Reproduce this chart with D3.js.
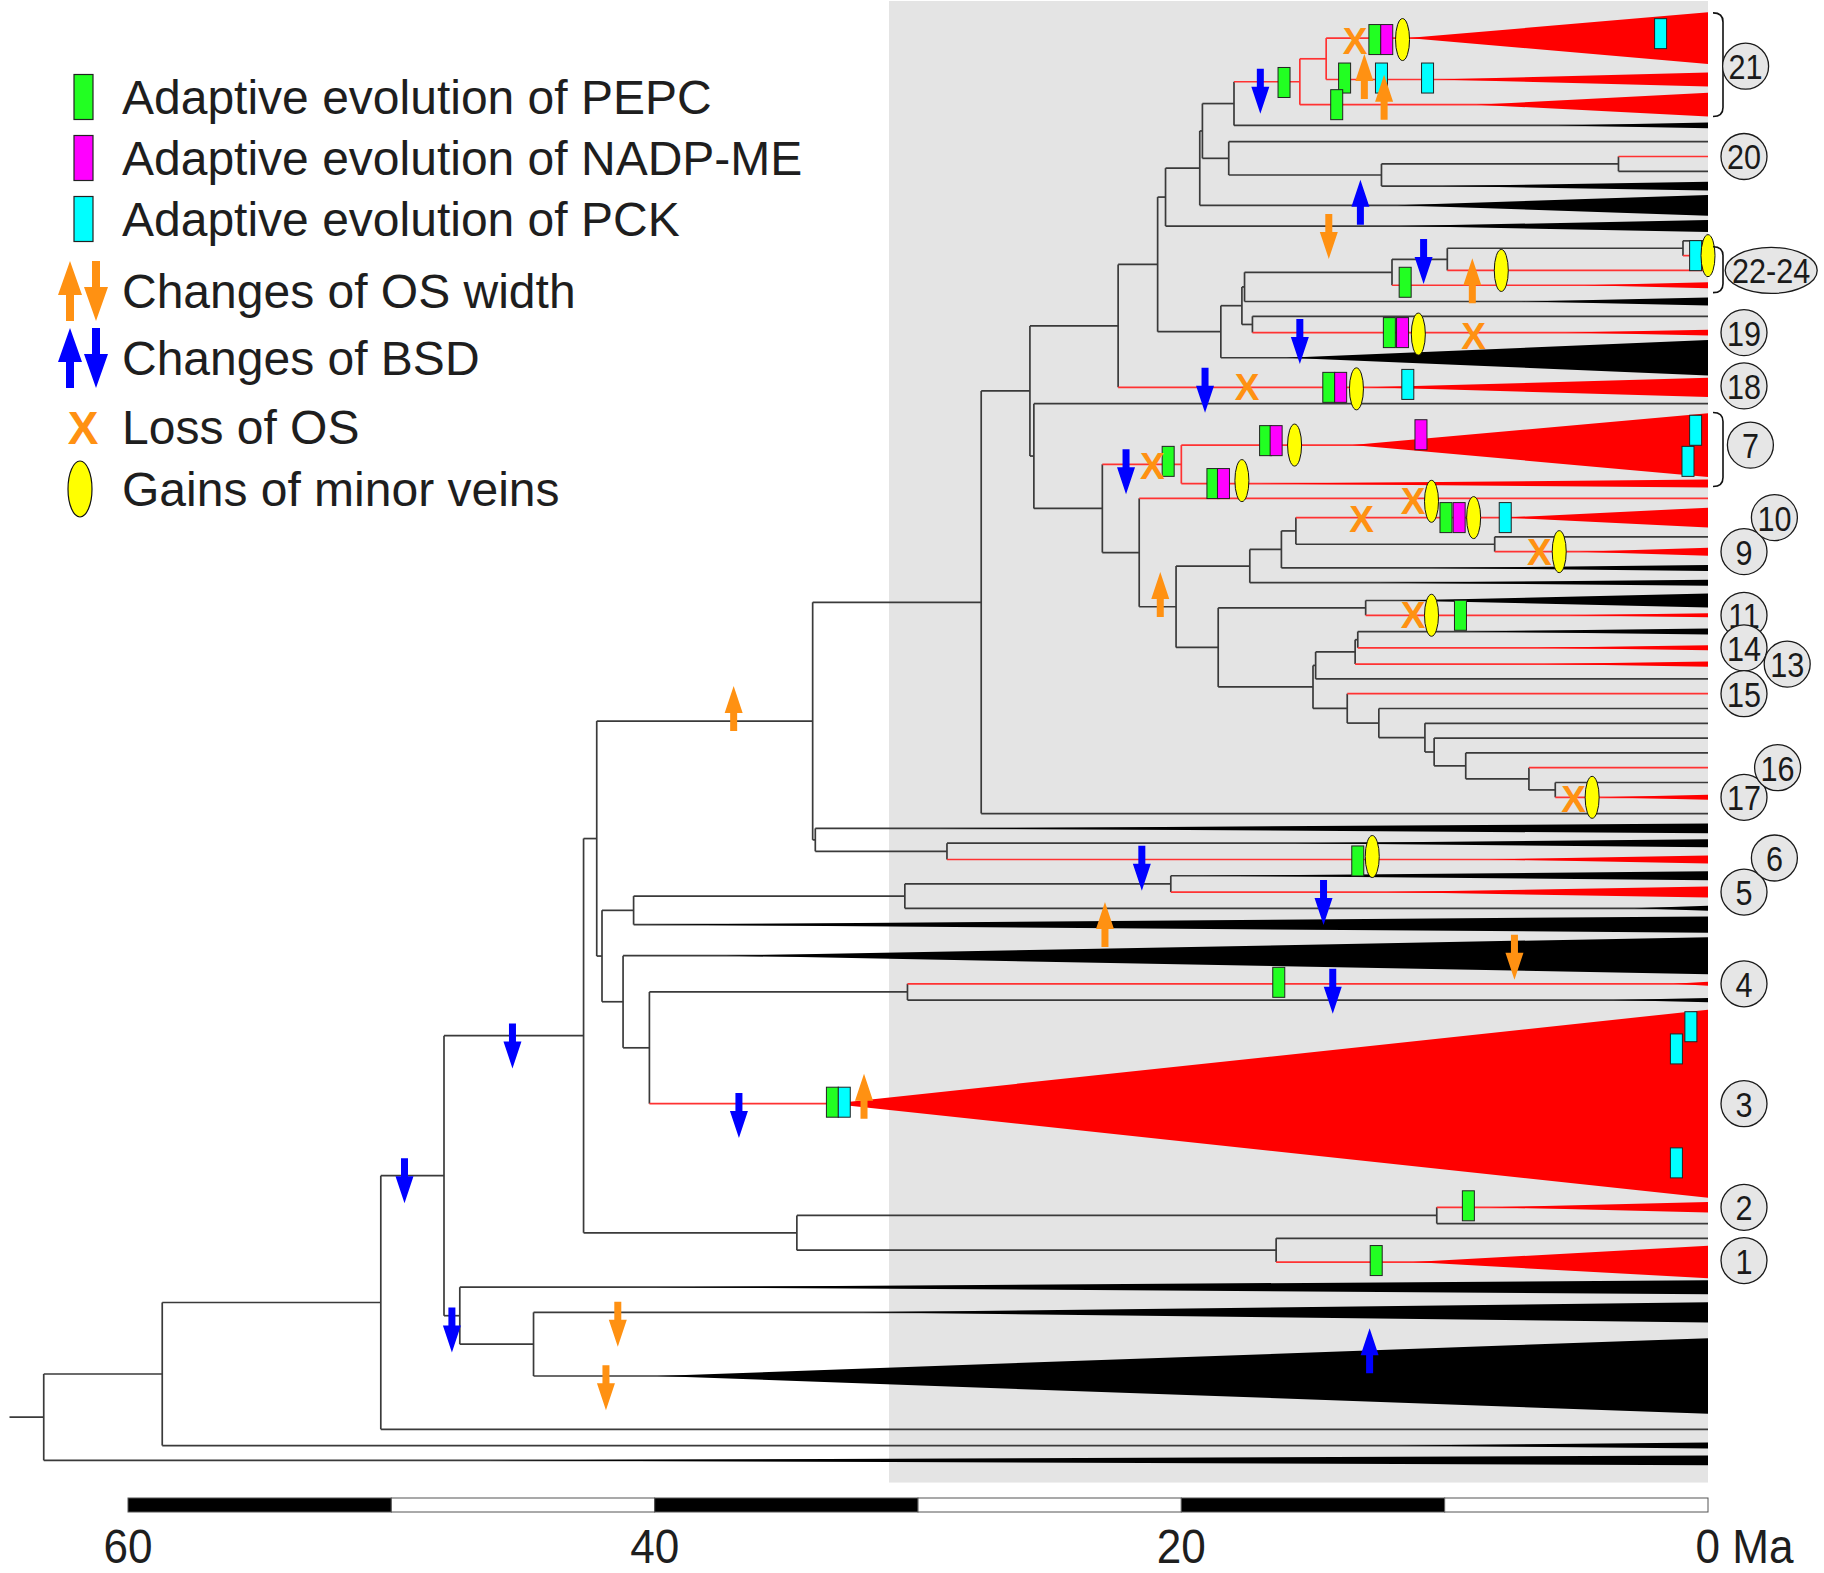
<!DOCTYPE html>
<html>
<head>
<meta charset="utf-8">
<script src="https://cdn.jsdelivr.net/npm/d3@7"></script>
<style>
  body { margin: 0; background: #fff; }
  svg { display: block; font-family: "Liberation Sans", Arial, sans-serif; }
</style>
</head>
<body>
<svg id="chart" width="1824" height="1573"></svg>
<script>
// ---------------- Tree: internal nodes [id, parent, age (Ma)] ----------------
const internalNodes = [
  ["root", null, 63.2], ["n1", "root", 58.7], ["n2", "n1", 50.4], ["n3", "n2", 48.0],
  ["n4", "n3", 42.7], ["n5", "n4", 42.2], ["n6", "n5", 34.0], ["n7", "n6", 27.6],
  ["n8", "n7", 25.75], ["n9", "n8", 22.4], ["n10", "n9", 20.9], ["n11", "n10", 20.6],
  ["n12", "n11", 19.3], ["n13", "n12", 19.2], ["n14", "n13", 18.0], ["n15", "n14", 15.5],
  ["n16", "n15", 14.5], ["n17", "n13", 18.2], ["n18", "n17", 12.4], ["n19", "n18", 3.4],
  ["n20", "n10", 18.5], ["n21", "n20", 17.7], ["n22", "n21", 17.6], ["n23", "n22", 12.0],
  ["n24", "n23", 9.9], ["n25", "n24", 0.95], ["n26", "n21", 17.3], ["n27", "n8", 25.6],
  ["n28", "n27", 23.0], ["n29", "n28", 20.0], ["n30", "n28", 21.6], ["n31", "n30", 20.2],
  ["n32", "n31", 17.4], ["n33", "n32", 16.2], ["n34", "n33", 15.65], ["n35", "n34", 8.1],
  ["n36", "n31", 18.6], ["n37", "n36", 13.0], ["n38", "n36", 15.0], ["n39", "n38", 14.9],
  ["n40", "n39", 13.4], ["n41", "n40", 13.3], ["n42", "n38", 13.7], ["n43", "n42", 12.5],
  ["n44", "n43", 10.75], ["n45", "n44", 10.4], ["n46", "n45", 9.2], ["n47", "n46", 6.8],
  ["n48", "n47", 5.8], ["n49", "n6", 33.9], ["n50", "n49", 28.9], ["n51", "n5", 42.0],
  ["n52", "n51", 40.8], ["n53", "n52", 30.5], ["n54", "n53", 20.4], ["n55", "n51", 41.2],
  ["n56", "n55", 40.2], ["n57", "n56", 30.4], ["n58", "n4", 34.6], ["n59", "n58", 10.3],
  ["n60", "n58", 16.4], ["n61", "n3", 47.4], ["n62", "n61", 44.6]
];

// ---------------- Tips [id, parent, row, state, clade stem age, clade half-height (rows)] ----------------
// state "C4" = red lineages, "C3" = black lineages
const tips = [
  ["t1", "n16", 2.1, "C4", 11.4, 1.75], ["t2", "n16", 4.9, "C4", 10.4, 0.47],
  ["t3", "n15", 6.6, "C4", 8.8, 0.8], ["t4", "n14", 8.0, "C3", 5.7, 0.2],
  ["t5", "n17", 9.1, "C3", null, 0], ["t6", "n19", 10.1, "C4", null, 0],
  ["t7", "n19", 11.1, "C3", null, 0], ["t8", "n18", 12.1, "C3", 10.1, 0.3],
  ["t9", "n12", 13.4, "C3", 11.8, 0.7], ["t10", "n11", 14.8, "C3", 11.7, 0.4],
  ["t11", "n25", 15.8, "C3", null, 0], ["t12", "n25", 16.8, "C4", null, 0],
  ["t13", "n24", 17.8, "C4", null, 0], ["t14", "n23", 18.8, "C4", 4.7, 0.2],
  ["t15", "n22", 19.9, "C3", 7.1, 0.27], ["t16", "n26", 20.9, "C3", null, 0],
  ["t17", "n26", 22.0, "C4", 5.4, 0.2], ["t18", "n20", 23.7, "C3", 16.0, 1.2],
  ["t19", "n9", 25.7, "C4", 12.9, 0.65], ["t20", "n27", 26.8, "C3", null, 0],
  ["t21", "n29", 29.6, "C4", 13.5, 2.15], ["t22", "n29", 32.2, "C4", 17.0, 0.27],
  ["t23", "n30", 33.2, "C4", null, 0], ["t24", "n34", 34.5, "C4", 7.7, 0.67],
  ["t25", "n35", 35.8, "C3", null, 0], ["t26", "n35", 36.8, "C4", 4.9, 0.27],
  ["t27", "n33", 37.9, "C3", 10.5, 0.2], ["t28", "n32", 38.9, "C3", 12.5, 0.2],
  ["t29", "n37", 40.1, "C3", 11.7, 0.47], ["t30", "n37", 41.1, "C4", 5.3, 0.14],
  ["t31", "n41", 42.2, "C3", 9.3, 0.2], ["t32", "n41", 43.3, "C4", 6.5, 0.17],
  ["t33", "n40", 44.4, "C4", 6.2, 0.17], ["t34", "n39", 45.4, "C3", null, 0],
  ["t35", "n42", 46.4, "C4", null, 0], ["t36", "n43", 47.4, "C3", null, 0],
  ["t37", "n44", 48.4, "C3", null, 0], ["t38", "n45", 49.4, "C3", null, 0],
  ["t39", "n46", 50.4, "C3", null, 0], ["t40", "n47", 51.4, "C4", null, 0],
  ["t41", "n48", 52.4, "C3", null, 0], ["t42", "n48", 53.4, "C4", 4.1, 0.17],
  ["t43", "n7", 54.5, "C3", null, 0], ["t44", "n49", 55.5, "C3", 29.2, 0.33],
  ["t45", "n50", 56.5, "C3", 15.7, 0.27], ["t46", "n50", 57.6, "C4", 8.3, 0.27],
  ["t47", "n54", 58.7, "C3", 19.2, 0.3], ["t48", "n54", 59.8, "C4", 12.2, 0.37],
  ["t49", "n53", 60.9, "C3", 2.8, 0.17], ["t50", "n52", 62.0, "C3", 40.3, 0.55],
  ["t51", "n55", 64.1, "C3", 37.3, 1.25], ["t52", "n57", 66.0, "C4", 1.3, 0.14],
  ["t53", "n57", 67.1, "C3", 3.6, 0.14], ["t54", "n56", 74.1, "C4", 33.3, 6.35],
  ["t55", "n59", 81.1, "C4", 8.3, 0.35], ["t56", "n59", 82.2, "C3", null, 0],
  ["t57", "n60", 83.2, "C3", null, 0], ["t58", "n60", 84.8, "C4", 11.2, 1.1],
  ["t59", "n61", 86.5, "C3", 40.0, 0.47], ["t60", "n62", 88.2, "C3", 32.1, 0.68],
  ["t61", "n62", 92.5, "C3", 39.9, 2.55], ["t62", "n2", 96.1, "C3", null, 0],
  ["t63", "n1", 97.2, "C3", 11.8, 0.2], ["t64", "root", 98.2, "C3", 46.3, 0.33]
];
const rootStubAge = 64.5;

// ---------------- Character changes mapped on branches [age (Ma), row] ----------------
const pepcEvents = [[12.65, 2.2], [16.1, 5.1], [13.8, 4.8], [14.1, 6.6], [11.5, 18.6], [12.1, 22.0],
  [14.4, 25.7], [20.5, 30.7], [16.8, 29.3], [18.8, 32.2], [9.95, 34.5], [9.4, 41.1], [13.3, 57.7],
  [16.3, 65.9], [33.25, 74.0], [9.1, 81.0], [12.6, 84.7]];
const nadpmeEvents = [[12.2, 2.2], [11.6, 22.0], [13.95, 25.7], [16.4, 29.3], [18.4, 32.2],
  [10.9, 28.9], [9.45, 34.5]];
const pckEvents = [[1.8, 1.8], [12.4, 4.8], [10.65, 4.8], [0.47, 16.8], [11.4, 25.5], [0.47, 28.6],
  [0.76, 30.7], [7.7, 34.5], [32.8, 74.0], [0.65, 68.9], [1.2, 70.4], [1.2, 78.1]];
const osWidthUp = [[13.05, 4.7], [12.3, 6.1], [8.95, 18.5], [20.8, 39.7], [22.9, 62.0], [32.05, 73.6], [37.0, 47.4]];
const osWidthDown = [[14.4, 15.5], [7.35, 64.2], [41.4, 89.0], [41.85, 93.3]];
const bsdUp = [[13.2, 13.2], [12.85, 90.8]];
const bsdDown = [[17.0, 5.7], [10.8, 17.2], [15.5, 22.6], [19.1, 25.9], [22.1, 31.4], [21.5, 58.2],
  [14.6, 60.5], [14.25, 66.5], [36.8, 74.9], [45.4, 70.2], [49.5, 79.3], [47.7, 89.4]];
const osLoss = [[13.4, 2.3], [8.9, 22.2], [17.5, 25.7], [21.1, 31.0], [11.2, 33.4], [13.15, 34.6],
  [6.4, 36.8], [11.2, 41.1], [5.1, 53.5]];
const minorVeinGains = [[11.6, 2.2], [7.85, 17.8], [0.0, 16.8], [11.0, 22.1], [13.35, 25.8], [15.7, 29.6],
  [17.7, 32.0], [10.5, 33.4], [8.9, 34.5], [5.65, 36.8], [10.5, 41.1], [4.4, 53.4], [12.75, 57.4]];

// ---------------- Numbered C4 origins [label, row, column] ----------------
const cladeLabels = [["21", 4.0, 0.05], ["20", 10.1, 0], ["22-24", 17.8, 0.85], ["19", 22.0, 0],
  ["18", 25.6, 0], ["7", 29.6, 0.2], ["9", 36.8, 0], ["10", 34.5, 0.95], ["11", 41.1, 0],
  ["14", 43.3, 0], ["13", 44.4, 1.35], ["15", 46.4, 0], ["17", 53.4, 0], ["16", 51.4, 1.05],
  ["5", 59.8, 0], ["6", 57.5, 0.95], ["4", 66.0, 0], ["3", 74.1, 0], ["2", 81.1, 0], ["1", 84.7, 0]];
const brackets = [[0.4, 7.4], [16.2, 19.3], [27.4, 32.4]];

// ---------------- Time axis ----------------
const shadeFrom = 31.1;
const axisTicks = [60, 40, 20, 0];
const barSegments = [60, 50, 40, 30, 20, 10];

const legendItems = [
  ["pepc", "Adaptive evolution of PEPC"],
  ["nadpme", "Adaptive evolution of NADP-ME"],
  ["pck", "Adaptive evolution of PCK"],
  ["os", "Changes of OS width"],
  ["bsd", "Changes of BSD"],
  ["loss", "Loss of OS"],
  ["veins", "Gains of minor veins"]
];

// ---------------- Drawing ----------------
const svg = d3.select("#chart");
const x = d3.scaleLinear().domain([60, 0]).range([128, 1708]);
const y = d3.scaleLinear().domain([0, 100]).range([7, 1487]);

const COL = { black: "#3a3a3a", red: "#ff3232", fillRed: "#ff0000", fillBlack: "#000000",
  green: "#22ff22", magenta: "#ff00ff", cyan: "#00ffff", yellow: "#ffff00",
  orange: "#ff9112", blue: "#0000ff", shade: "#e4e4e4" };

svg.append("rect")
  .attr("x", x(shadeFrom)).attr("y", 1)
  .attr("width", x(0) - x(shadeFrom)).attr("height", y(99.7) - 1)
  .attr("fill", COL.shade);

// hierarchy
const rows = [
  ...internalNodes.map(([id, parent, age]) => ({ id, parent, age })),
  ...tips.map(([id, parent, row, state, wAge, wHalf]) => ({ id, parent, age: 0, row, state, wAge, wHalf }))
];
const root = d3.stratify().id(d => d.id).parentId(d => d.parent)(rows);
root.eachAfter(n => {
  if (n.children) {
    n.children.sort((a, b) => a.yv - b.yv);
    n.yv = (n.children[0].yv + n.children[n.children.length - 1].yv) / 2;
    n.red = n.children.every(c => c.red);
  } else {
    n.yv = n.data.row;
    n.red = n.data.state === "C4";
  }
});

const gTree = svg.append("g").attr("fill", "none").attr("stroke-width", 1.7);
const all = root.descendants();

// vertical connectors
gTree.selectAll("line.v").data(all.filter(n => n.children)).join("line")
  .attr("x1", n => x(n.data.age)).attr("x2", n => x(n.data.age))
  .attr("y1", n => y(n.children[0].yv)).attr("y2", n => y(n.children[n.children.length - 1].yv))
  .attr("stroke", n => n.red ? COL.red : COL.black);

// horizontal branches (black first, red over)
const branchNodes = all.slice().sort((a, b) => (a.red ? 1 : 0) - (b.red ? 1 : 0));
gTree.selectAll("line.h").data(branchNodes).join("line")
  .attr("x1", n => x(n.parent ? n.parent.data.age : rootStubAge))
  .attr("x2", n => x(n.data.age))
  .attr("y1", n => y(n.yv)).attr("y2", n => y(n.yv))
  .attr("stroke", n => n.red ? COL.red : COL.black);

// collapsed clades drawn as wedges
const wedgeTips = root.leaves().filter(n => n.data.wAge != null);
svg.append("g").selectAll("path").data(wedgeTips).join("path")
  .attr("d", n => `M${x(n.data.wAge)},${y(n.yv)} L${x(0)},${y(n.yv - n.data.wHalf)} L${x(0)},${y(n.yv + n.data.wHalf)} Z`)
  .attr("fill", n => n.red ? COL.fillRed : COL.fillBlack);

// ---------------- Markers ----------------
function arrowPath(cx, cy, dir, h, headW, shaftW, headL) {
  const tip = cy + dir * h / 2, tail = cy - dir * h / 2, neck = tip - dir * headL;
  return `M${cx - shaftW / 2},${tail} L${cx + shaftW / 2},${tail} L${cx + shaftW / 2},${neck} ` +
    `L${cx + headW / 2},${neck} L${cx},${tip} L${cx - headW / 2},${neck} L${cx - shaftW / 2},${neck} Z`;
}
const BOX_W = 12, BOX_H = 30;
const gMarks = svg.append("g");

function boxes(data, fill) {
  gMarks.append("g").selectAll("rect").data(data).join("rect")
    .attr("x", d => x(d[0]) - BOX_W / 2).attr("y", d => y(d[1]) - BOX_H / 2)
    .attr("width", BOX_W).attr("height", BOX_H)
    .attr("fill", fill).attr("stroke", "#222").attr("stroke-width", 1);
}
boxes(pepcEvents, COL.green);
boxes(nadpmeEvents, COL.magenta);
boxes(pckEvents, COL.cyan);

gMarks.append("g").selectAll("ellipse").data(minorVeinGains).join("ellipse")
  .attr("cx", d => x(d[0])).attr("cy", d => y(d[1])).attr("rx", 7).attr("ry", 21)
  .attr("fill", COL.yellow).attr("stroke", "#111").attr("stroke-width", 1);

gMarks.append("g").selectAll("text").data(osLoss).join("text")
  .attr("x", d => x(d[0])).attr("y", d => y(d[1]) + 13)
  .attr("text-anchor", "middle").attr("font-size", 37).attr("font-weight", "bold")
  .attr("fill", COL.orange).text("X");

function arrows(data, dir, fill) {
  gMarks.append("g").selectAll("path").data(data).join("path")
    .attr("d", d => arrowPath(x(d[0]), y(d[1]), dir, 45, 18, 7, 27))
    .attr("fill", fill);
}
arrows(osWidthUp, -1, COL.orange);
arrows(osWidthDown, 1, COL.orange);
arrows(bsdUp, -1, COL.blue);
arrows(bsdDown, 1, COL.blue);

// ---------------- Brackets & clade numbers ----------------
const bx0 = x(0) + 5, bx1 = x(0) + 15;
svg.append("g").selectAll("path").data(brackets).join("path")
  .attr("d", d => {
    const t = y(d[0]), b = y(d[1]);
    return `M${bx0},${t} Q${bx1},${t} ${bx1},${t + 9} L${bx1},${b - 9} Q${bx1},${b} ${bx0},${b}`;
  })
  .attr("fill", "none").attr("stroke", "#111").attr("stroke-width", 1.6);

const labelX0 = 1744, labelStep = 32;
const gLab = svg.append("g").selectAll("g").data(cladeLabels).join("g")
  .attr("transform", d => `translate(${labelX0 + d[2] * labelStep},${y(d[1])})`);
gLab.append("ellipse")
  .attr("rx", d => d[0].length > 2 ? 46 : 23).attr("ry", 23)
  .attr("fill", "#e6e6e6").attr("stroke", "#1a1a1a").attr("stroke-width", 1.3);
gLab.append("text")
  .attr("transform", "scale(0.85,1)")
  .attr("text-anchor", "middle").attr("y", 13)
  .attr("font-size", 36).attr("fill", "#1a1a1a")
  .text(d => d[0]);

// ---------------- Legend ----------------
const legendRowY = [114, 175, 236, 308, 375, 444, 506];
const gLeg = svg.append("g");
legendItems.forEach(([kind, label], i) => {
  const base = legendRowY[i], cy = base - 17;
  if (kind === "pepc" || kind === "nadpme" || kind === "pck") {
    const fill = kind === "pepc" ? COL.green : kind === "nadpme" ? COL.magenta : COL.cyan;
    gLeg.append("rect").attr("x", 74).attr("y", cy - 22.5).attr("width", 19).attr("height", 45)
      .attr("fill", fill).attr("stroke", "#222").attr("stroke-width", 1.2);
  } else if (kind === "os" || kind === "bsd") {
    const fill = kind === "os" ? COL.orange : COL.blue;
    gLeg.append("path").attr("d", arrowPath(70, cy, -1, 60, 24, 8, 34)).attr("fill", fill);
    gLeg.append("path").attr("d", arrowPath(96, cy, 1, 60, 24, 8, 34)).attr("fill", fill);
  } else if (kind === "loss") {
    gLeg.append("text").attr("x", 83).attr("y", cy + 16.5).attr("text-anchor", "middle")
      .attr("font-size", 46).attr("font-weight", "bold").attr("fill", COL.orange).text("X");
  } else {
    gLeg.append("ellipse").attr("cx", 80).attr("cy", cy).attr("rx", 12).attr("ry", 28)
      .attr("fill", COL.yellow).attr("stroke", "#111").attr("stroke-width", 1.2);
  }
  gLeg.append("text").attr("x", 122).attr("y", base).attr("font-size", 48)
    .attr("fill", "#1e1e1e").text(label);
});

// ---------------- Time scale bar ----------------
const barTop = 1498, barH = 14;
svg.append("g").selectAll("rect").data(barSegments).join("rect")
  .attr("x", d => x(d)).attr("y", barTop)
  .attr("width", d => x(d - 10) - x(d)).attr("height", barH)
  .attr("fill", (d, i) => i % 2 === 0 ? "#000" : "#fff")
  .attr("stroke", "#555").attr("stroke-width", 1);

const gTicks = svg.append("g").selectAll("g").data(axisTicks).join("g")
  .attr("transform", d => `translate(${x(d)},1563)`);
gTicks.append("text")
  .attr("transform", "scale(0.9,1)")
  .attr("text-anchor", d => d === 0 ? "start" : "middle")
  .attr("x", d => d === 0 ? -14 : 0)
  .attr("font-size", 49).attr("fill", "#1e1e1e")
  .text(d => d === 0 ? "0 Ma" : String(d));
</script>
</body>
</html>
